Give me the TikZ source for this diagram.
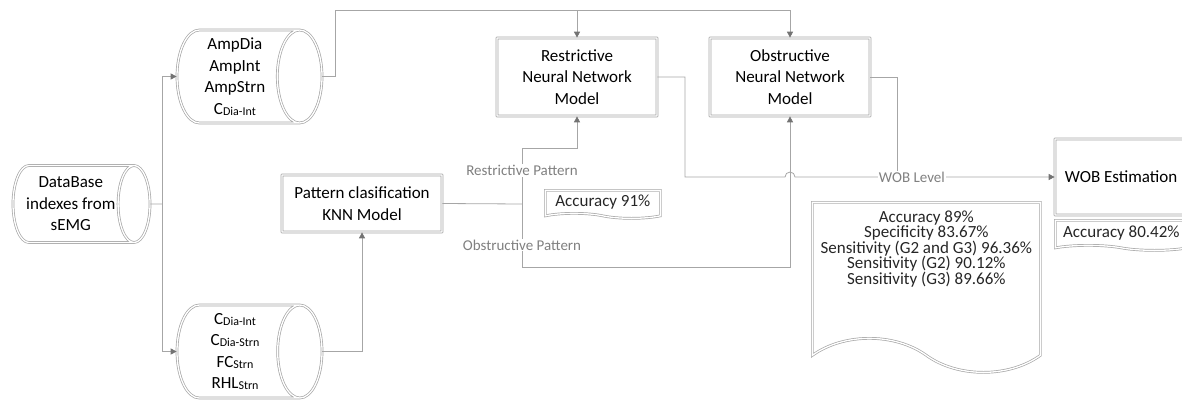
\documentclass[tikz,border=0pt]{standalone}
\usepackage{fontspec}
\setmainfont{Carlito}
\usetikzlibrary{arrows.meta,positioning,shapes.geometric,shapes.symbols,calc}
\newcommand{\subtx}[1]{\raisebox{-1pt}{\fontsize{12}{12}\selectfont #1}}

\begin{document}
\begin{tikzpicture}[
    x=1pt,y=-1pt,
    every node/.style={font=\fontsize{17}{21.5}\selectfont},
    dbl/.style={draw=black!35,double=white,double distance=1.3pt,line width=0.7pt},
    store/.style={dbl,cylinder,shape border rotate=0,aspect=0.55,align=center,
                 inner sep=2pt,anchor=shape center},
    proc/.style={dbl,shape=rectangle,rounded corners=0.2pt,align=center,inner sep=2pt},
    doc/.style={dbl,tape,tape bend top=none,tape bend bottom=out and in,
               inner sep=2pt,text=black!85},
    conn/.style={draw=black!35,line width=0.8pt},
    arr/.style={conn,-{Triangle[length=6pt,width=6pt,color=black!55]}},
    lbl/.style={fill=white,text=black!50,inner sep=1pt,font=\fontsize{15}{15}\selectfont}
  ]
    \useasboundingbox (0,0) rectangle (1182,399);

    %% data stores
    \node[store,minimum height=137pt,minimum width=77pt] (db) at (81.5,204)
      {DataBase\\indexes from\\sEMG};
    \node[store,minimum height=145pt,minimum width=93pt] (ampset) at (249.5,76.5)
      {AmpDia\\AmpInt\\AmpStrn\\C\subtx{Dia-Int}};
    \node[store,minimum height=145pt,minimum width=93pt] (knnset) at (249.5,351.5)
      {C\subtx{Dia-Int}\\C\subtx{Dia-Strn}\\FC\subtx{Strn}\\RHL\subtx{Strn}};

    %% models
    \node[proc,minimum width=160pt,minimum height=57pt] (knn) at (362,203.5)
      {Pattern clasification\\KNN Model};
    \node[proc,minimum width=160pt,minimum height=78pt] (rnn) at (577,77)
      {Restrictive\\Neural Network\\Model};
    \node[proc,minimum width=160pt,minimum height=78pt] (onn) at (790,77)
      {Obstructive\\Neural Network\\Model};
    \node[proc,minimum width=132pt,minimum height=76pt] (wob) at (1121,177)
      {WOB Estimation};

    %% results
    \node[doc,minimum width=115pt,minimum height=28pt,anchor=north west] (accknn)
      at (545,190) {Accuracy 91\%};
    \node[doc,minimum width=132pt,minimum height=30pt,anchor=north west] (accwob)
      at (1055,220) {Accuracy 80.42\%};
    \node[doc,minimum width=228pt,minimum height=170pt,tape bend height=34pt,
      anchor=north west,
      label={[name=accnntxt,anchor=north,yshift=-5pt,align=center,text=black!85,
        font=\fontsize{17}{15.5}\selectfont]north:{Accuracy 89\%\\Specificity 83.67\%\\
        Sensitivity (G2 and G3) 96.36\%\\Sensitivity (G2) 90.12\%\\
        Sensitivity (G3) 89.66\%}}] (accnn) at (812,202) {};

    \coordinate (split) at (162,204);
    \coordinate (topR) at (335,10);
    \coordinate (patsplit) at (522,204);
    \coordinate (rbend) at (522,148);
    \coordinate (obend) at (522,267);
    \coordinate (rturn) at (685,177);
    \coordinate (ojoin) at (897,177);

    %% database -> index sets
    \draw[conn] (db.east) -- (split);
    \draw[arr] (split) |- (ampset.west);
    \draw[arr] (split) |- (knnset.west);

    %% index sets -> models
    \draw[conn] (ampset.east) -| (topR);
    \draw[arr] (topR) -| (rnn.north);
    \draw[arr] (rnn.north |- topR) -| (onn.north);
    \draw[arr] (knnset.east) -| (knn.south);

    %% pattern split
    \draw[conn] (knn.east) -- (patsplit);
    \draw[arr] (patsplit) -- node[lbl,pos=0.6]{Restrictive Pattern} (rbend) -| (rnn.south);
    \draw[arr] (patsplit) -- node[lbl,pos=0.65]{Obstructive Pattern} (obend) -| (onn.south);

    %% WOB level
    \draw[conn] (onn.east) -| (ojoin);
    \draw[arr] (rnn.east) -| (rturn)
      -- ([xshift=-5pt]onn.south |- rturn) arc[start angle=180,end angle=0,radius=5pt]
      -- node[lbl,pos=0.45]{WOB Level} (wob.west);
  \end{tikzpicture}
\end{document}
